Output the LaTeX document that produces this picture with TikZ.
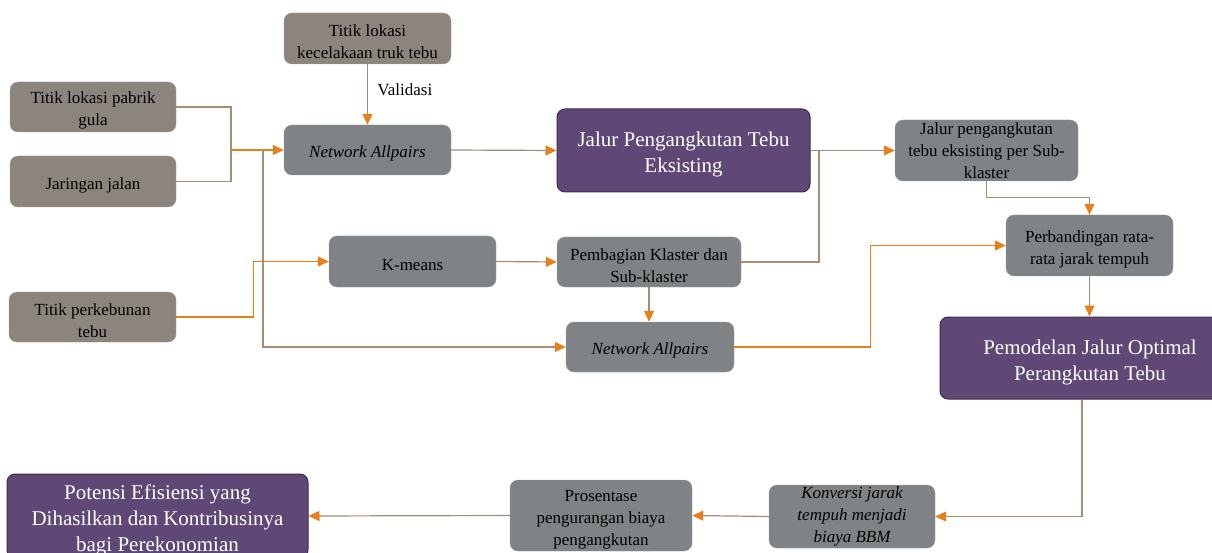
\documentclass[tikz,border=0pt]{standalone}
\usepackage{fontspec}
\setmainfont{Liberation Serif}
\usetikzlibrary{arrows.meta}
\definecolor{taupe}{HTML}{8C857E}
\definecolor{slate}{HTML}{7F8385}
\definecolor{plum}{HTML}{5F4876}
\definecolor{plumline}{HTML}{3E2C52}
\definecolor{wire}{HTML}{A88B70}
\definecolor{tip}{HTML}{E8801A}
\tikzset{>={Triangle[length=11pt,width=10pt,color=tip]}}
\newcommand\textlift{\rule{0pt}{1.12em}}

\begin{document}
\begin{tikzpicture}[x=1pt,y=-1pt,
    inbox/.style={rectangle, rounded corners=8pt, fill=taupe, draw=taupe!80!white,
      text=black, align=center, inner sep=0pt, font=\fontsize{17}{22}\selectfont},
    procbox/.style={inbox, fill=slate, draw=slate!80!white},
    goalbox/.style={inbox, fill=plum, draw=plumline, line width=1pt, text=white,
      font=\fontsize{21}{26}\selectfont},
    link/.style={draw=wire, line width=1.2pt, ->}]
  \useasboundingbox (0,0) rectangle (1212,553);

  % input data
  \node[inbox, minimum width=167, minimum height=51] (crash) at (367.5,38.5) {\textlift Titik lokasi\\kecelakaan truk tebu};
  \node[inbox, minimum width=166, minimum height=50] (mill) at (93,107) {\textlift Titik lokasi pabrik\\gula};
  \node[inbox, minimum width=166, minimum height=51] (road) at (93,181.5) {\textlift Jaringan jalan};
  \node[inbox, minimum width=167, minimum height=50] (farm) at (92.5,317) {\textlift Titik perkebunan\\tebu};

  % processing steps
  \node[procbox, minimum width=167, minimum height=50] (napA) at (367.5,150) {\textlift\itshape Network Allpairs};
  \node[procbox, minimum width=167, minimum height=51] (kmeans) at (412.5,261.5) {\textlift K-means};
  \node[procbox, minimum width=184, minimum height=50] (split) at (649,262) {\textlift Pembagian Klaster dan\\Sub-klaster};
  \node[procbox, minimum width=168, minimum height=50] (napB) at (650,347) {\textlift\itshape Network Allpairs};
  \node[procbox, minimum width=183, minimum height=61] (persub) at (986.5,150.5) {Jalur pengangkutan\\tebu eksisting per Sub-\\klaster};
  \node[procbox, minimum width=167, minimum height=61] (compare) at (1089.5,245.5) {\textlift Perbandingan rata-\\rata jarak tempuh};
  \node[procbox, minimum width=166, minimum height=63] (convert) at (852,516.5) {\itshape Konversi jarak\\\itshape tempuh menjadi\\\itshape biaya BBM};
  \node[procbox, minimum width=182, minimum height=71] (percent) at (601,515.5) {\textlift Prosentase\\pengurangan biaya\\pengangkutan};

  % results
  \node[goalbox, minimum width=253, minimum height=83] (exist) at (683.5,150.5) {\textlift Jalur Pengangkutan Tebu\\Eksisting};
  \node[goalbox, minimum width=300, minimum height=82] (model) at (1090,358) {\textlift Pemodelan Jalur Optimal\\Perangkutan Tebu};
  \node[goalbox, minimum width=301, minimum height=84] (impact) at (157.5,516) {\textlift Potensi Efisiensi yang\\Dihasilkan dan Kontribusinya\\bagi Perekonomian};

  \coordinate (join) at (231,150);
  \coordinate (fork) at (263,150);
  \coordinate (tee) at (819,150.5);

  % connectors
  \draw[link] (crash) -- node[right, xshift=6pt, pos=0.42, font=\fontsize{17}{20}\selectfont] {Validasi} (napA);
  \draw[draw=wire, line width=1.2pt] (mill.east) -| (join) |- (road.east);
  \draw[link, draw=tip] (join) -- (napA.west);
  \draw[link] (fork) |- (napB.west);
  \draw[link] (napA.east) -- (exist.west);
  \draw[link] (exist.east) -- (persub.west);
  \draw[draw=wire, line width=1.2pt] (split.east) -| (tee);
  \draw[link, draw=tip] (farm.east) -- ++(77,0) |- (kmeans.west);
  \draw[link] (kmeans.east) -- (split.west);
  \draw[link] (split.south) -- (split.south |- napB.north);
  \draw[link, draw=tip] (napB.east) -- ++(136,0) |- (compare.west);
  \draw[link] (persub.south) -- ++(0,16) -| (compare.north);
  \draw[link] (compare.south) -- (compare.south |- model.north);
  \draw[link] ([xshift=-8pt]model.south) |- (convert.east);
  \draw[link] (convert.west) -- (percent.east);
  \draw[link] (percent.west) -- (impact.east);

\end{tikzpicture}
\end{document}
